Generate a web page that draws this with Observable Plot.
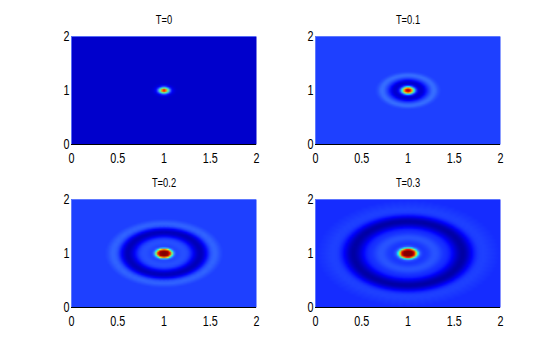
<!doctype html>
<html><head><meta charset="utf-8">
<script src="https://cdn.jsdelivr.net/npm/d3@7"></script>
<script src="https://cdn.jsdelivr.net/npm/@observablehq/plot@0.6"></script>
<style>html,body{margin:0;padding:0;background:#fff}svg{display:block}</style>
</head><body><div id="c"></div>
<script>
const titles = ["T=0", "T=0.1", "T=0.2", "T=0.3"];
const radialStep = 0.02;
// amplitude at radius 0, 0.02, 0.04, ... from the spot centre
const profileT0 = [0.95,0.82,0.55,0.30,0.15,0.10,0.085,0.075];
const profileT1 = [0.97,0.93,0.78,0.5,0.25,0.13,0.09,0.075,0.085,0.115,0.155,0.185,0.215,0.24,0.25,0.24,0.215,0.2,0.19];
const profileT2 = [1,1,0.99,0.94,0.65,0.32,0.21,0.195,0.2,0.205,0.21,0.21,0.205,0.195,0.175,0.15,0.12,0.09,0.07,0.055,0.055,0.07,0.1,0.135,0.17,0.205,0.225,0.235,0.235,0.225,0.21,0.2,0.19];
const profileT3 = [1,1,1,0.97,0.8,0.46,0.26,0.2,0.185,0.18,0.185,0.19,0.2,0.21,0.215,0.215,0.21,0.2,0.19,0.18,0.175,0.17,0.16,0.145,0.125,0.1,0.08,0.06,0.045,0.035,0.035,0.045,0.065,0.09,0.115,0.14,0.16,0.175,0.185,0.19,0.19,0.19,0.19,0.185,0.185,0.18,0.18,0.175,0.175,0.17,0.17];
const profiles = [profileT0, profileT1, profileT2, profileT3];
const colorStops = [0,0.075,0.125,0.19,0.26,0.375,0.5,0.625,0.875,1];
const colorRange = ["#000080","#0000cc","#0000ff","#1e40ff","#3c78ff","#00ffff","#60ff90","#ffff00","#ff0000","#800000"];
const xTicks = [0,0.5,1,1.5,2];
const yTicks = [0,1,2];

// each read value is laid out as a ring of samples around the spot; Plot.raster fills between them
const spokes = 72;
const samples = [];
profiles.forEach((p, k) => {
  const col = k % 2, row = k >> 1;
  p.forEach((v, n) => {
    const r = n * radialStep;
    if (n === 0) { samples.push({x: 1, y: 1, v, col, row}); return; }
    for (let a = 0; a < spokes; ++a) {
      const t = (a + (n % 2) / 2) * 2 * Math.PI / spokes;
      samples.push({x: 1 + r * Math.cos(t), y: 1 + r * Math.sin(t), v, col, row});
    }
  });
  // the last value holds out to the panel corners
  const last = p[p.length - 1];
  for (let a = 0; a < spokes; ++a) {
    const t = a * 2 * Math.PI / spokes;
    samples.push({x: 1 + 1.6 * Math.cos(t), y: 1 + 1.6 * Math.sin(t), v: last, col, row});
  }
});
const titleRows = titles.map((t, k) => ({t, col: k % 2, row: k >> 1}));

const plot = Plot.plot({
  width: 554, height: 346,
  marginLeft: 71, marginRight: 53, marginTop: 35, marginBottom: 38,
  style: {fontFamily: "'Liberation Sans',sans-serif", background: "#fff", color: "#000"},
  x: {domain: [0, 2], axis: null},
  y: {domain: [0, 2], axis: null},
  fx: {domain: [0, 1], axis: null, paddingInner: 0.241, paddingOuter: 0},
  fy: {domain: [0, 1], axis: null, paddingInner: 0.335, paddingOuter: 0},
  color: {type: "linear", domain: colorStops, range: colorRange, clamp: true},
  marks: [
    Plot.raster(samples, {x: "x", y: "y", fill: "v", fx: "col", fy: "row", x1: 0, x2: 2, y1: 0, y2: 2, width: 93, height: 70, interpolate: "barycentric"}),
    Plot.ruleY([2], {stroke: "#4060ff", strokeOpacity: 0.6}),
    Plot.ruleX([0], {stroke: "#4060ff", strokeOpacity: 0.6}),
    Plot.ruleY([0], {stroke: "#000", strokeWidth: 1}),
    Plot.axisX(xTicks, {anchor: "bottom", facetAnchor: null, label: null, tickSize: 0, tickPadding: 8, fontSize: 15, tickFormat: d => String(d)}),
    Plot.axisY(yTicks, {anchor: "left", facetAnchor: null, label: null, tickSize: 0, tickPadding: 2, fontSize: 15, tickFormat: d => String(d)}),
    Plot.text(titleRows, {text: "t", fx: "col", fy: "row", frameAnchor: "top", dy: -22, fontSize: 13})
  ]
});
// the reference's lettering is horizontally condensed
plot.querySelectorAll("text").forEach(t => {
  const tr = t.getAttribute("transform") || "";
  t.setAttribute("transform", tr + " scale(0.72,1)");
});
document.getElementById("c").append(plot);
</script></body></html>
